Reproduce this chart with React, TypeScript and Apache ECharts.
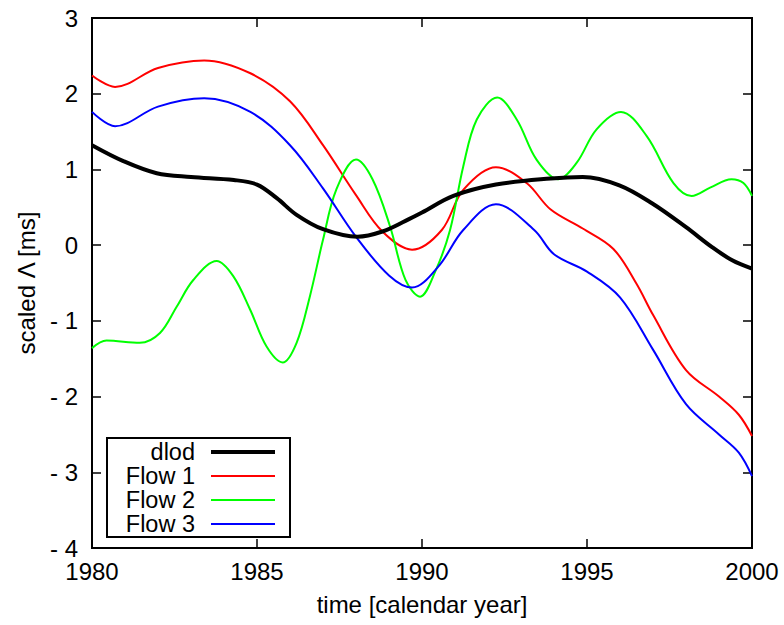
import React, { useEffect, useRef } from "react";
import * as echarts from "echarts";

const dlodYears = [1980, 1980.95, 1981.96, 1983, 1984.3, 1985, 1985.6, 1986.2, 1987, 1988.05, 1988.8, 1989.5, 1990, 1990.95, 1992.24, 1993.9, 1994.87, 1995.98, 1996.98, 1997.99, 1998.8, 1999.4, 2000];
const dlodValues = [1.32, 1.11, 0.95, 0.9, 0.86, 0.8, 0.62, 0.4, 0.21, 0.11, 0.18, 0.32, 0.43, 0.65, 0.8, 0.88, 0.9, 0.79, 0.55, 0.24, -0.03, -0.2, -0.31];

const flow1Years = [1980, 1980.7, 1982, 1983.4, 1984.8, 1986, 1987, 1988, 1988.8, 1989.7, 1990.6, 1991.25, 1992.24, 1993.17, 1993.9, 1994.87, 1995.8, 1996.5, 1997, 1998, 1999, 1999.6, 2000];
const flow1Values = [2.24, 2.09, 2.34, 2.44, 2.27, 1.9, 1.32, 0.66, 0.18, -0.06, 0.2, 0.73, 1.03, 0.82, 0.47, 0.22, -0.05, -0.51, -0.92, -1.65, -2.0, -2.24, -2.52];

const flow2Years = [1980, 1980.44, 1981.45, 1982.06, 1982.57, 1983.07, 1983.78, 1984.28, 1984.79, 1985.29, 1985.78, 1986.2, 1986.6, 1987, 1987.4, 1988, 1988.5, 1989.03, 1989.5, 1989.94, 1990.4, 1990.85, 1991.25, 1991.66, 1992.28, 1992.87, 1993.47, 1994.13, 1994.69, 1995.29, 1996.03, 1996.81, 1997.62, 1998.17, 1998.73, 1999.38, 1999.74, 2000];
const flow2Values = [-1.36, -1.26, -1.29, -1.16, -0.81, -0.46, -0.21, -0.41, -0.85, -1.34, -1.55, -1.29, -0.68, 0.07, 0.73, 1.13, 0.87, 0.25, -0.46, -0.68, -0.35, 0.2, 1.04, 1.66, 1.95, 1.66, 1.13, 0.87, 1.09, 1.53, 1.76, 1.44, 0.82, 0.65, 0.76, 0.87, 0.82, 0.65];

const flow3Years = [1980, 1980.7, 1982, 1983.4, 1984.8, 1986, 1987, 1988, 1989, 1989.7, 1990.5, 1991.25, 1992.24, 1993.4, 1994, 1995, 1996, 1997, 1998, 1999, 1999.6, 2000];
const flow3Values = [1.76, 1.57, 1.83, 1.94, 1.76, 1.32, 0.75, 0.11, -0.4, -0.56, -0.28, 0.2, 0.54, 0.2, -0.12, -0.35, -0.69, -1.38, -2.1, -2.5, -2.74, -3.05];

const seriesNames = ["dlod", "Flow 1", "Flow 2", "Flow 3"];
const seriesColors = ["#000000", "#ff0000", "#00ff00", "#0000ff"];
const seriesWidths = [4, 2, 2, 2];

const FONT = "'Liberation Sans', Arial, Helvetica, sans-serif";

function pairs(xs: number[], ys: number[]) {
  return xs.map((x, i) => [x, ys[i]]);
}

export default function App() {
  const ref = useRef<HTMLDivElement>(null);
  useEffect(() => {
    if (!ref.current) return;
    const chart = echarts.init(ref.current, undefined, { renderer: "svg" });
    const datasets = [
      pairs(dlodYears, dlodValues),
      pairs(flow1Years, flow1Values),
      pairs(flow2Years, flow2Values),
      pairs(flow3Years, flow3Values),
    ];
    const tickStyle = { show: true, inside: true, length: 9, lineStyle: { color: "#000", width: 1.5 } };
    const axisLine = { show: true, onZero: false, lineStyle: { color: "#000", width: 2 } };
    const legendX0 = 107, legendY0 = 438;
    const rowY = [452, 476, 500, 524];
    const legendGraphics: any[] = [
      {
        type: "rect",
        shape: { x: legendX0, y: legendY0, width: 183, height: 99 },
        style: { fill: "#fff", stroke: "#000", lineWidth: 2 },
        z: 100,
      },
    ];
    seriesNames.forEach((n, i) => {
      legendGraphics.push({
        type: "text",
        x: 195,
        y: rowY[i],
        style: {
          text: n,
          fontFamily: FONT,
          fontSize: 23.5,
          lineHeight: 20,
          fill: "#000",
          align: "right",
          verticalAlign: "middle",
        },
        z: 101,
      });
      legendGraphics.push({
        type: "line",
        shape: { x1: 211, y1: rowY[i], x2: 275, y2: rowY[i] },
        style: { stroke: seriesColors[i], lineWidth: seriesWidths[i] },
        z: 101,
      });
    });
    chart.setOption({
      animation: false,
      backgroundColor: "#fff",
      grid: { left: 92, right: 32, top: 18, bottom: 77, show: true, borderColor: "#000", borderWidth: 2, containLabel: false },
      xAxis: [
        {
          type: "value",
          min: 1980,
          max: 2000,
          interval: 5,
          position: "bottom",
          name: "time [calendar year]",
          nameLocation: "middle",
          nameGap: 44,
          nameTextStyle: { fontFamily: FONT, fontSize: 24, color: "#000" },
          axisLine,
          axisTick: tickStyle,
          axisLabel: { fontFamily: FONT, fontSize: 24, color: "#000", margin: 11, formatter: (v: number) => String(v) },
          splitLine: { show: false },
        },
        {
          type: "value",
          min: 1980,
          max: 2000,
          interval: 5,
          position: "top",
          axisLine,
          axisTick: tickStyle,
          axisLabel: { show: false },
          splitLine: { show: false },
        },
      ],
      yAxis: [
        {
          type: "value",
          min: -4,
          max: 3,
          interval: 1,
          position: "left",
          name: "scaled Λ [ms]",
          nameLocation: "middle",
          nameGap: 54,
          nameTextStyle: { fontFamily: FONT, fontSize: 24, color: "#000" },
          axisLine,
          axisTick: tickStyle,
          axisLabel: {
            fontFamily: FONT,
            fontSize: 24,
            color: "#000",
            margin: 14,
            formatter: (v: number) => (v < 0 ? "- " + Math.abs(v) : String(v)),
          },
          splitLine: { show: false },
        },
        {
          type: "value",
          min: -4,
          max: 3,
          interval: 1,
          position: "right",
          axisLine,
          axisTick: tickStyle,
          axisLabel: { show: false },
          splitLine: { show: false },
        },
      ],
      series: datasets.map((d, i) => ({
        name: seriesNames[i],
        type: "line",
        data: d,
        xAxisIndex: 0,
        yAxisIndex: 0,
        smooth: 0.35,
        showSymbol: false,
        symbol: "none",
        clip: true,
        lineStyle: { color: seriesColors[i], width: seriesWidths[i] },
        z: i === 0 ? 3 : 2,
      })),
      graphic: legendGraphics,
    });
    return () => chart.dispose();
  }, []);
  return <div ref={ref} style={{ width: 784, height: 625, position: "absolute", left: 0, top: 0 }} />;
}
